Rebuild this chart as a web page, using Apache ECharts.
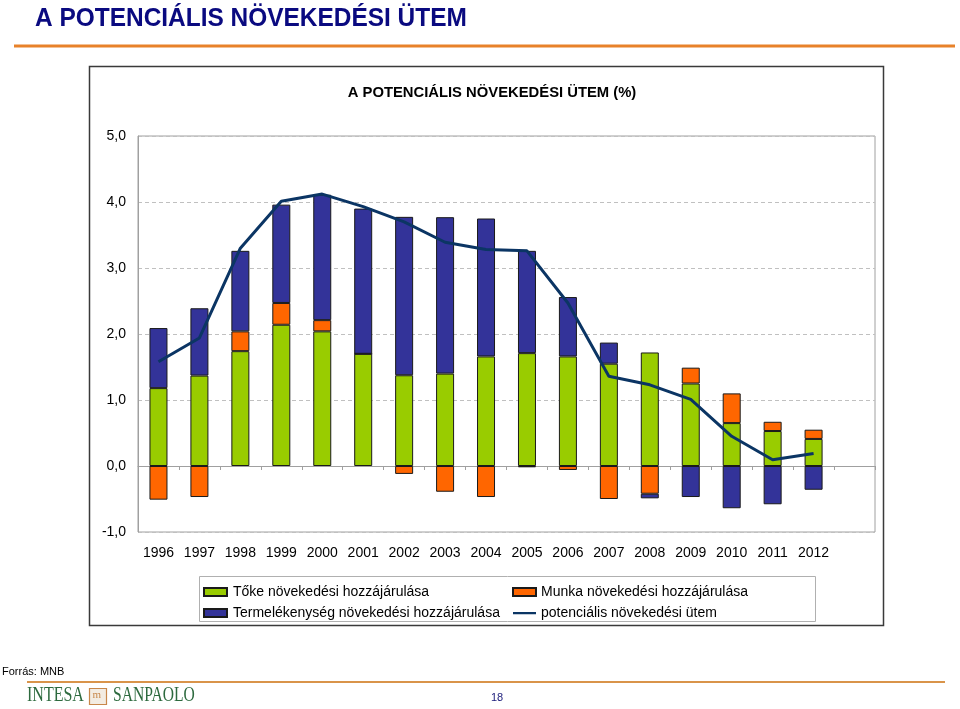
<!DOCTYPE html>
<html>
<head>
<meta charset="utf-8">
<script src="https://cdn.jsdelivr.net/npm/echarts@6/dist/echarts.min.js"></script>
<style>
html,body{margin:0;padding:0;background:#fff;}
#main{width:960px;height:709px;}
</style>
</head>
<body>
<div id="main"></div>
<script>
// ---- data ----
var years = ['1996','1997','1998','1999','2000','2001','2002','2003','2004','2005','2006','2007','2008','2009','2010','2011','2012',''];
var toke = [1.18,1.37,1.74,2.14,2.04,1.70,1.375,1.40,1.66,1.71,1.66,1.55,1.72,1.25,0.65,0.53,0.41,null];
var munka = [-0.51,-0.47,0.30,0.33,0.17,0,-0.12,-0.39,-0.47,-0.02,-0.06,-0.50,-0.42,0.24,0.45,0.14,0.14,null];
var termel = [0.91,1.02,1.22,1.49,1.90,2.20,2.40,2.37,2.09,1.55,0.90,0.32,-0.07,-0.47,-0.64,-0.58,-0.36,null];
var potential = [1.58,1.94,3.30,4.01,4.12,3.93,3.70,3.39,3.28,3.26,2.47,1.36,1.23,1.01,0.45,0.095,0.19,null];
var yTicks = {min:-1, max:5, interval:1};
var names = ['Tőke növekedési hozzájárulása','Munka növekedési hozzájárulása','Termelékenység növekedési hozzájárulása','potenciális növekedési ütem'];

var FONT = 'Liberation Sans, Arial, sans-serif';
var chart = echarts.init(document.getElementById('main'));
var barBorder = {borderColor:'#1a1a1a', borderWidth:1};
var lineIcon = 'path://M0,0 H0.01 V0.01 H0 Z M0,2.8 H26 V5.4 H0 Z M25.99,7.99 H26 V8 H25.99 Z';
var option = {
  animation:false,
  backgroundColor:'#fff',
  title:[
    {text:'A POTENCIÁLIS NÖVEKEDÉSI ÜTEM (%)', left:487, top:80, textAlign:'center',
     textStyle:{fontFamily:FONT, fontSize:14.8, fontWeight:'bold', color:'#000'}}
  ],
  graphic:[
    {type:'text', x:35, y:6, scaleX:0.94, style:{text:'A POTENCIÁLIS NÖVEKEDÉSI ÜTEM', font:'bold 26px '+FONT, fill:'#0a0a80', textBaseline:'top'}},
    {type:'line', shape:{x1:14,y1:46,x2:955,y2:46}, style:{stroke:'#e8822a', lineWidth:3}},
    {type:'rect', shape:{x:89.5,y:66.5,width:794,height:559}, style:{fill:'none', stroke:'#3a3a3a', lineWidth:1.5}},
    {type:'rect', shape:{x:199.5,y:576.5,width:616,height:45}, style:{fill:'none', stroke:'#b0b0b0', lineWidth:1}},
    {type:'text', left:2, top:666, style:{text:'Forrás: MNB', font:'11px '+FONT, fill:'#000'}},
    {type:'line', shape:{x1:27,y1:682,x2:945,y2:682}, style:{stroke:'#d9944a', lineWidth:2}},
    {type:'text', x:27, y:686, scaleX:0.8, style:{text:'INTESA', font:'20px Liberation Serif, serif', fill:'#2d6a3e', textBaseline:'top'}},
    {type:'rect', shape:{x:89.5,y:688.5,width:17,height:16}, style:{fill:'#f3ece2', stroke:'#c8874a', lineWidth:1.2}},
    {type:'text', x:92.5, y:690, style:{text:'m', font:'11px Liberation Serif, serif', fill:'#c8874a', textBaseline:'top'}},
    {type:'text', x:113, y:686, scaleX:0.78, style:{text:'SANPAOLO', font:'20px Liberation Serif, serif', fill:'#2d6a3e', textBaseline:'top'}},
    {type:'text', left:491, top:692, style:{text:'18', font:'11px '+FONT, fill:'#1a1a7a'}}
  ],
  legend:[
    {orient:'vertical', left:198, top:580, itemWidth:23, itemHeight:8, itemGap:7,
     data:[{name:names[0], icon:'rect'},{name:names[2], icon:'rect'}],
     textStyle:{fontFamily:FONT, fontSize:14, color:'#000', padding:[0,0,0,1]}},
    {orient:'vertical', left:507, top:580, itemWidth:23, itemHeight:8, itemGap:7,
     data:[{name:names[1], icon:'rect'},{name:names[3], icon:lineIcon}],
     textStyle:{fontFamily:FONT, fontSize:14, color:'#000', padding:[0,0,0,0]}}
  ],
  grid:{left:138, right:85, top:136, bottom:177, show:true, borderColor:'#a0a0a0', borderWidth:1, containLabel:false},
  xAxis:[
    {type:'category', data:years, position:'bottom',
     axisLine:{onZero:true, lineStyle:{color:'#a0a0a0', width:1}},
     axisTick:{show:true, alignWithLabel:false, length:4, lineStyle:{color:'#a0a0a0'}},
     axisLabel:{show:false}, splitLine:{show:false}},
    {type:'category', data:years, position:'bottom',
     axisLine:{show:false, onZero:false}, axisTick:{show:false},
     axisLabel:{show:true, interval:0, margin:14, fontFamily:FONT, fontSize:14, color:'#000'}}
  ],
  yAxis:{type:'value', min:yTicks.min, max:yTicks.max, interval:yTicks.interval,
    axisLine:{show:true, lineStyle:{color:'#a0a0a0'}}, axisTick:{show:false},
    axisLabel:{margin:12, fontFamily:FONT, fontSize:14, color:'#000',
      formatter:function(v){return v.toFixed(1).replace('.',',');}},
    splitLine:{show:true, lineStyle:{color:'#c0c0c0', type:[4,3]}}},
  series:[
    {name:names[0], type:'bar', stack:'a', data:toke, barWidth:18, itemStyle:Object.assign({color:'#99cc00'},barBorder)},
    {name:names[1], type:'bar', stack:'a', data:munka, barWidth:18, itemStyle:Object.assign({color:'#ff6600'},barBorder)},
    {name:names[2], type:'bar', stack:'a', data:termel, barWidth:18, itemStyle:Object.assign({color:'#333399'},barBorder)},
    {name:names[3], type:'line', data:potential, symbol:'none', lineStyle:{color:'#0b3564', width:3}, itemStyle:{color:'#0b3564'}, z:5}
  ]
};
chart.setOption(option);
</script>
</body>
</html>
